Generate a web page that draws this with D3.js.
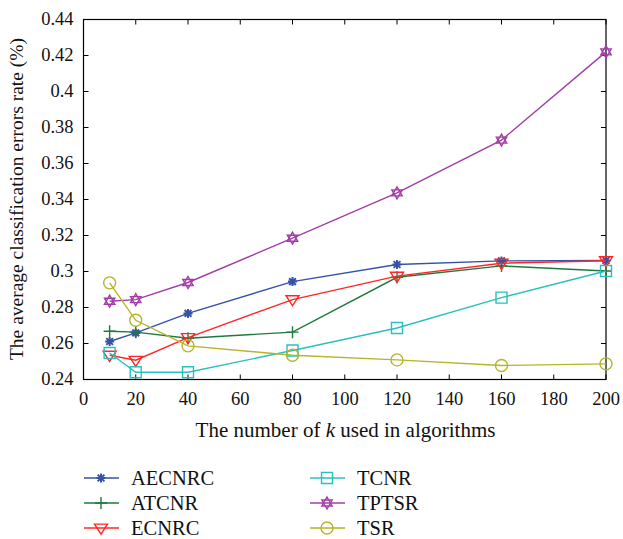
<!DOCTYPE html>
<html>
<head>
<meta charset="utf-8">
<script src="https://cdn.jsdelivr.net/npm/d3@7"></script>
<style>
  html, body { margin: 0; padding: 0; background: #fff; }
  svg text { font-family: "Liberation Serif", "Times New Roman", serif; fill: #111; }
</style>
</head>
<body>
<svg id="chart" width="623" height="539"></svg>
<script>
// k values (x) and average classification error rates for each method
const kValues = [10, 20, 40, 80, 120, 160, 200];
const aecnrc = [0.2611, 0.2659, 0.2767, 0.2944, 0.3039, 0.3059, 0.3061];
const atcnr  = [0.2668, 0.2663, 0.2629, 0.2663, 0.2968, 0.3031, 0.3003];
const ecnrc  = [0.2535, 0.2507, 0.2633, 0.2844, 0.2974, 0.3046, 0.3060];
const tcnr   = [0.2547, 0.2440, 0.2440, 0.2561, 0.2686, 0.2855, 0.3003];
const tptsr  = [0.2835, 0.2844, 0.2939, 0.3185, 0.3437, 0.3730, 0.4220];
const tsr    = [0.2937, 0.2729, 0.2587, 0.2535, 0.2509, 0.2478, 0.2487];

const seriesNames = ["AECNRC", "ATCNR", "ECNRC", "TCNR", "TPTSR", "TSR"];
const seriesColors = ["#3552a8", "#1e7a3c", "#ff2626", "#2bbfbf", "#a23da8", "#b5b52a"];
const seriesMarkers = ["asterisk", "plus", "triangleDown", "square", "hexagram", "circle"];
const seriesValues = [aecnrc, atcnr, ecnrc, tcnr, tptsr, tsr];

const xTicks = [0, 20, 40, 60, 80, 100, 120, 140, 160, 180, 200];
const yTicks = [0.24, 0.26, 0.28, 0.30, 0.32, 0.34, 0.36, 0.38, 0.40, 0.42, 0.44];

const svg = d3.select("#chart");
const plot = { left: 83.5, right: 606, top: 19.5, bottom: 379.5 };

const x = d3.scaleLinear().domain([0, 200]).range([plot.left, plot.right]);
const y = d3.scaleLinear().domain([0.24, 0.44]).range([plot.bottom, plot.top]);

// Marker shapes drawn as paths centred on (0,0)
function markerPath(type) {
  switch (type) {
    case "asterisk": {
      const r = 4.5, d = r * 0.75;
      return `M${-r},0L${r},0M0,${-r}L0,${r}M${-d},${-d}L${d},${d}M${-d},${d}L${d},${-d}`;
    }
    case "plus": {
      const r = 6;
      return `M${-r},0L${r},0M0,${-r}L0,${r}`;
    }
    case "triangleDown": {
      const r = 6.5;
      return `M${-r},${-r * 0.6}L${r},${-r * 0.6}L0,${r * 0.95}Z`;
    }
    case "square": {
      const r = 5.5;
      return `M${-r},${-r}L${r},${-r}L${r},${r}L${-r},${r}Z`;
    }
    case "hexagram": {
      const r = 6;
      const t1 = [0, 1, 2].map(i => {
        const a = -Math.PI / 2 + i * 2 * Math.PI / 3;
        return [r * Math.cos(a), r * Math.sin(a)];
      });
      const t2 = [0, 1, 2].map(i => {
        const a = Math.PI / 2 + i * 2 * Math.PI / 3;
        return [r * Math.cos(a), r * Math.sin(a)];
      });
      return "M" + t1.map(p => p.join(",")).join("L") + "Z" +
             "M" + t2.map(p => p.join(",")).join("L") + "Z";
    }
    case "circle": {
      const r = 6;
      return `M${r},0A${r},${r} 0 1,1 ${-r},0A${r},${r} 0 1,1 ${r},0Z`;
    }
  }
}

function drawMarker(g, type, color, cx, cy) {
  g.append("path")
    .attr("d", markerPath(type))
    .attr("transform", `translate(${cx},${cy})`)
    .attr("fill", "none")
    .attr("stroke", color)
    .attr("stroke-width", type === "asterisk" ? 2 : 1.4);
}

// Axis frame with inward ticks on all four sides
const frame = svg.append("g");
frame.append("rect")
  .attr("x", plot.left).attr("y", plot.top)
  .attr("width", plot.right - plot.left).attr("height", plot.bottom - plot.top)
  .attr("fill", "none").attr("stroke", "#000").attr("stroke-width", 1.2);

const tickLen = 5;
xTicks.forEach(t => {
  const px = x(t);
  frame.append("line").attr("x1", px).attr("x2", px)
    .attr("y1", plot.bottom).attr("y2", plot.bottom - tickLen)
    .attr("stroke", "#000").attr("stroke-width", 1);
  frame.append("line").attr("x1", px).attr("x2", px)
    .attr("y1", plot.top).attr("y2", plot.top + tickLen)
    .attr("stroke", "#000").attr("stroke-width", 1);
  frame.append("text").attr("x", px).attr("y", 405)
    .attr("text-anchor", "middle").attr("font-size", 18.5).text(t);
});
yTicks.forEach(t => {
  const py = y(t);
  frame.append("line").attr("x1", plot.left).attr("x2", plot.left + tickLen)
    .attr("y1", py).attr("y2", py).attr("stroke", "#000").attr("stroke-width", 1);
  frame.append("line").attr("x1", plot.right).attr("x2", plot.right - tickLen)
    .attr("y1", py).attr("y2", py).attr("stroke", "#000").attr("stroke-width", 1);
  frame.append("text").attr("x", plot.left - 10).attr("y", py + 5.5)
    .attr("text-anchor", "end").attr("font-size", 18.5)
    .text(d3.format("~g")(+t.toFixed(2)));
});

// Axis titles
svg.append("text")
  .attr("x", 345.5).attr("y", 437)
  .attr("text-anchor", "middle").attr("font-size", 21)
  .call(t => {
    t.append("tspan").text("The number of ");
    t.append("tspan").attr("font-style", "italic").text("k");
    t.append("tspan").text(" used in algorithms");
  });

svg.append("text")
  .attr("transform", "translate(23,199) rotate(-90)")
  .attr("text-anchor", "middle").attr("font-size", 19.5)
  .text("The average classification errors rate (%)");

// Series lines and markers
const line = d3.line().x((d, i) => x(kValues[i])).y(d => y(d));
seriesValues.forEach((vals, si) => {
  const g = svg.append("g");
  g.append("path").datum(vals)
    .attr("d", line)
    .attr("fill", "none")
    .attr("stroke", seriesColors[si])
    .attr("stroke-width", 1.4);
  vals.forEach((v, i) => drawMarker(g, seriesMarkers[si], seriesColors[si], x(kValues[i]), y(v)));
});

// Legend in two columns
const legend = svg.append("g");
seriesNames.forEach((name, i) => {
  const col = Math.floor(i / 3), row = i % 3;
  const lx = col === 0 ? 84 : 310;
  const ly = 478 + row * 25;
  legend.append("line").attr("x1", lx).attr("x2", lx + 35)
    .attr("y1", ly).attr("y2", ly)
    .attr("stroke", seriesColors[i]).attr("stroke-width", 1.4);
  drawMarker(legend, seriesMarkers[i], seriesColors[i], lx + 17, ly);
  legend.append("text").attr("x", lx + 47).attr("y", ly + 7)
    .attr("font-size", 20.5).text(name);
});
</script>
</body>
</html>
